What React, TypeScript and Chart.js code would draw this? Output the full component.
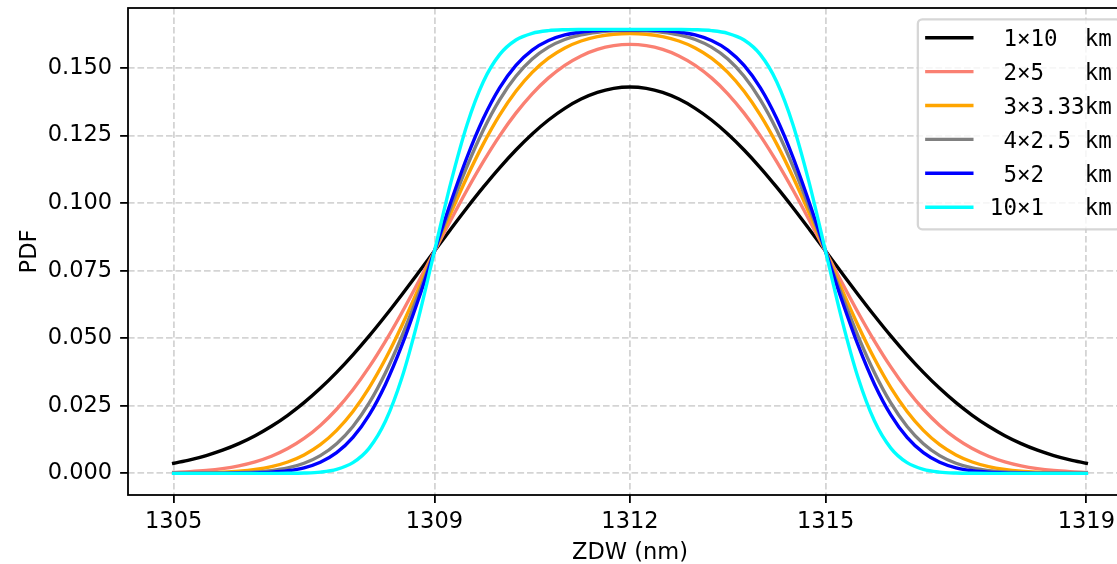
import React, { useEffect, useRef } from "react";
import { Chart, registerables } from "chart.js";

Chart.register(...registerables);

const zdw = [
  1305, 1305.25, 1305.5, 1305.75, 1306, 1306.25, 1306.5, 1306.75, 1307, 1307.25, 1307.5, 1307.75,
  1308, 1308.25, 1308.5, 1308.75, 1309, 1309.25, 1309.5, 1309.75, 1310, 1310.25, 1310.5, 1310.75,
  1311, 1311.25, 1311.5, 1311.75, 1312, 1312.25, 1312.5, 1312.75, 1313, 1313.25, 1313.5, 1313.75,
  1314, 1314.25, 1314.5, 1314.75, 1315, 1315.25, 1315.5, 1315.75, 1316, 1316.25, 1316.5, 1316.75,
  1317, 1317.25, 1317.5, 1317.75, 1318, 1318.25, 1318.5, 1318.75, 1319,
];

const xTickValues = [1305, 1309, 1312, 1315, 1319];
const yTickValues = [0, 0.025, 0.05, 0.075, 0.1, 0.125, 0.15];

const seriesLabels = [" 1×10  km", " 2×5   km", " 3×3.33km", " 4×2.5 km", " 5×2   km", "10×1   km"];
const seriesColors = ["#000000", "#fa8072", "#ffa500", "#808080", "#0000ff", "#00ffff"];

const pdf1x10 = [
  0.00375, 0.00502, 0.00661, 0.00859, 0.01102, 0.01395, 0.01743, 0.0215, 0.02617, 0.03147, 0.03738, 0.04387,
  0.05087, 0.05832, 0.06612, 0.07415, 0.08228, 0.09037, 0.0983, 0.1059, 0.11307, 0.11966, 0.12559, 0.13075,
  0.13507, 0.13849, 0.14096, 0.14245, 0.14295, 0.14245, 0.14096, 0.13849, 0.13507, 0.13075, 0.12559, 0.11966,
  0.11307, 0.1059, 0.0983, 0.09037, 0.08228, 0.07415, 0.06612, 0.05832, 0.05087, 0.04387, 0.03738, 0.03147,
  0.02617, 0.0215, 0.01743, 0.01395, 0.01102, 0.00859, 0.00661, 0.00502, 0.00375,
];
const pdf2x5 = [
  0.00038, 0.00066, 0.00109, 0.00177, 0.00279, 0.00426, 0.00633, 0.00917, 0.01292, 0.01774, 0.02373, 0.03095,
  0.03939, 0.04895, 0.05945, 0.07062, 0.08215, 0.09367, 0.10484, 0.11533, 0.12488, 0.13329, 0.14045, 0.14634,
  0.15099, 0.15447, 0.15687, 0.15827, 0.15873, 0.15827, 0.15687, 0.15447, 0.15099, 0.14634, 0.14045, 0.13329,
  0.12488, 0.11533, 0.10484, 0.09367, 0.08215, 0.07062, 0.05945, 0.04895, 0.03939, 0.03095, 0.02373, 0.01774,
  0.01292, 0.00917, 0.00633, 0.00426, 0.00279, 0.00177, 0.00109, 0.00066, 0.00038,
];
const pdf3x333 = [
  0.00004, 0.0001, 0.0002, 0.0004, 0.00077, 0.00142, 0.0025, 0.00422, 0.00684, 0.01065, 0.01593, 0.02292,
  0.03175, 0.04239, 0.05463, 0.06807, 0.08215, 0.09623, 0.10967, 0.12191, 0.13255, 0.14138, 0.14836, 0.15363,
  0.15742, 0.15999, 0.1616, 0.16248, 0.16276, 0.16248, 0.1616, 0.15999, 0.15742, 0.15363, 0.14836, 0.14138,
  0.13255, 0.12191, 0.10967, 0.09623, 0.08215, 0.06807, 0.05463, 0.04239, 0.03175, 0.02292, 0.01593, 0.01065,
  0.00684, 0.00422, 0.0025, 0.00142, 0.00077, 0.0004, 0.0002, 0.0001, 0.00004,
];
const pdf4x25 = [
  0.00001, 0.00001, 0.00004, 0.00009, 0.00022, 0.00049, 0.00102, 0.00201, 0.00374, 0.00658, 0.01098, 0.01736,
  0.02607, 0.03724, 0.05069, 0.06593, 0.08215, 0.09837, 0.11361, 0.12707, 0.13823, 0.14694, 0.15332, 0.15772,
  0.16056, 0.16228, 0.16324, 0.16372, 0.16386, 0.16372, 0.16324, 0.16228, 0.16056, 0.15772, 0.15332, 0.14694,
  0.13823, 0.12707, 0.11361, 0.09837, 0.08215, 0.06593, 0.05069, 0.03724, 0.02607, 0.01736, 0.01098, 0.00658,
  0.00374, 0.00201, 0.00102, 0.00049, 0.00022, 0.00009, 0.00004, 0.00001, 0.00001,
];
const pdf5x2 = [
  0.0, 0.0, 0.00001, 0.00002, 0.00007, 0.00017, 0.00043, 0.00098, 0.00208, 0.00414, 0.00768, 0.01333,
  0.02165, 0.033, 0.04733, 0.06407, 0.08215, 0.10024, 0.11697, 0.1313, 0.14265, 0.15097, 0.15662, 0.16016,
  0.16222, 0.16332, 0.16387, 0.1641, 0.16417, 0.1641, 0.16387, 0.16332, 0.16222, 0.16016, 0.15662, 0.15097,
  0.14265, 0.1313, 0.11697, 0.10024, 0.08215, 0.06407, 0.04733, 0.033, 0.02165, 0.01333, 0.00768, 0.00414,
  0.00208, 0.00098, 0.00043, 0.00017, 0.00007, 0.00002, 0.00001, 0.0, 0.0,
];
const pdf10x1 = [
  0.0, 0.0, 0.0, 0.0, 0.0, 0.0, 0.00001, 0.00003, 0.00013, 0.00047, 0.00146, 0.00395,
  0.00935, 0.01936, 0.03526, 0.0569, 0.08215, 0.1074, 0.12904, 0.14494, 0.15495, 0.16035, 0.16285, 0.16384,
  0.16417, 0.16427, 0.16429, 0.1643, 0.1643, 0.1643, 0.16429, 0.16427, 0.16417, 0.16384, 0.16285, 0.16035,
  0.15495, 0.14494, 0.12904, 0.1074, 0.08215, 0.0569, 0.03526, 0.01936, 0.00935, 0.00395, 0.00146, 0.00047,
  0.00013, 0.00003, 0.00001, 0.0, 0.0, 0.0, 0.0, 0.0, 0.0,
];

const seriesValues = [pdf1x10, pdf2x5, pdf3x333, pdf4x25, pdf5x2, pdf10x1];

const PT = 2.25; // px per point
const FONT_SIZE = 22.5;

const spinesPlugin = {
  id: "mplSpines",
  afterDatasetsDraw(chart: any) {
    const { ctx, chartArea } = chart;
    ctx.save();
    ctx.strokeStyle = "#000";
    ctx.lineWidth = 0.8 * PT;
    ctx.strokeRect(chartArea.left, chartArea.top, chartArea.right - chartArea.left, chartArea.bottom - chartArea.top);
    ctx.restore();
  },
};

const legendPlugin = {
  id: "mplLegend",
  afterDraw(chart: any) {
    const { ctx, chartArea } = chart;
    const em = FONT_SIZE;
    ctx.save();
    ctx.font = `${em}px "DejaVu Sans Mono"`;
    let textW = 0;
    seriesLabels.forEach((l) => {
      textW = Math.max(textW, ctx.measureText(l).width);
    });
    const pad = 0.4 * em;
    const handleLen = 2.0 * em;
    const handleTextPad = 0.8 * em;
    const rowStep = 33.9;
    const frameW = pad + handleLen + handleTextPad + textW + pad;
    const frameH = 210;
    const right = chartArea.right - 0.5 * em;
    const top = chartArea.top + 0.5 * em;
    const left = right - frameW;
    const r = 0.2 * em;
    ctx.beginPath();
    ctx.moveTo(left + r, top);
    ctx.lineTo(right - r, top);
    ctx.arcTo(right, top, right, top + r, r);
    ctx.lineTo(right, top + frameH - r);
    ctx.arcTo(right, top + frameH, right - r, top + frameH, r);
    ctx.lineTo(left + r, top + frameH);
    ctx.arcTo(left, top + frameH, left, top + frameH - r, r);
    ctx.lineTo(left, top + r);
    ctx.arcTo(left, top, left + r, top, r);
    ctx.closePath();
    ctx.fillStyle = "rgba(255,255,255,0.8)";
    ctx.fill();
    ctx.lineWidth = 1.0 * PT;
    ctx.strokeStyle = "rgba(204,204,204,0.8)";
    ctx.stroke();

    seriesLabels.forEach((label, i) => {
      const y = top + 18.45 + i * rowStep;
      ctx.beginPath();
      ctx.lineCap = "square";
      ctx.lineWidth = 1.5 * PT;
      ctx.strokeStyle = seriesColors[i];
      ctx.moveTo(left + pad, y);
      ctx.lineTo(left + pad + handleLen, y);
      ctx.stroke();
      ctx.fillStyle = "#000";
      ctx.textBaseline = "alphabetic";
      ctx.textAlign = "left";
      ctx.fillText(label, left + pad + handleLen + handleTextPad, y + 0.3645 * em);
    });
    ctx.restore();
  },
};

export default function App() {
  const canvasRef = useRef<HTMLCanvasElement | null>(null);

  useEffect(() => {
    const canvas = canvasRef.current;
    if (!canvas) return;
    const n = seriesValues.length;
    const chart = new Chart(canvas, {
      type: "line",
      data: {
        datasets: seriesValues.map((vals, i) => ({
          label: seriesLabels[i],
          data: zdw.map((x, j) => ({ x, y: vals[j] })),
          borderColor: seriesColors[i],
          backgroundColor: seriesColors[i],
          borderWidth: 1.5 * PT,
          pointRadius: 0,
          fill: false,
          cubicInterpolationMode: "monotone" as const,
          borderJoinStyle: "round" as const,
          borderCapStyle: "square" as const,
          order: n - i,
        })),
      },
      options: {
        responsive: false,
        animation: false,
        devicePixelRatio: 1,
        events: [],
        layout: { padding: { left: 0, right: 18, top: 8, bottom: 0 } },
        plugins: {
          legend: { display: false },
          tooltip: { enabled: false },
        },
        scales: {
          x: {
            type: "linear",
            min: 1304.3,
            max: 1319.7,
            afterBuildTicks: (scale: any) => {
              scale.ticks = xTickValues.map((v) => ({ value: v }));
            },
            afterFit: (scale: any) => {
              scale.height = 75;
              scale.paddingLeft = 0;
              scale.paddingRight = 0;
            },
            ticks: {
              autoSkip: false,
              maxRotation: 0,
              padding: 5.5,
              color: "#000",
              font: { family: "DejaVu Sans", size: FONT_SIZE },
              callback: (v: any) => String(v),
            },
            grid: {
              color: "rgba(176,176,176,0.55)",
              lineWidth: 0.8 * PT,
              drawTicks: true,
              tickLength: 3.5 * PT,
              tickColor: "#000",
              tickWidth: 0.8 * PT,
              tickBorderDash: [],
            },
            border: { display: false, dash: [6.6, 2.9] },
            title: {
              display: true,
              text: "ZDW (nm)",
              color: "#000",
              font: { family: "DejaVu Sans", size: FONT_SIZE },
              padding: { top: 0, bottom: 3 },
            },
          },
          y: {
            type: "linear",
            min: -0.008,
            max: 0.1722,
            afterBuildTicks: (scale: any) => {
              scale.ticks = yTickValues.map((v) => ({ value: v }));
            },
            afterFit: (scale: any) => {
              scale.width = 128;
              scale.paddingTop = 0;
              scale.paddingBottom = 0;
            },
            ticks: {
              autoSkip: false,
              padding: 8,
              color: "#000",
              font: { family: "DejaVu Sans", size: FONT_SIZE },
              callback: (v: any) => Number(v).toFixed(3),
            },
            grid: {
              color: "rgba(176,176,176,0.55)",
              lineWidth: 0.8 * PT,
              drawTicks: true,
              tickLength: 3.5 * PT,
              tickColor: "#000",
              tickWidth: 0.8 * PT,
              tickBorderDash: [],
            },
            border: { display: false, dash: [6.6, 2.9] },
            title: {
              display: true,
              text: "PDF",
              color: "#000",
              font: { family: "DejaVu Sans", size: FONT_SIZE },
              padding: { top: 16.5, bottom: 0 },
            },
          },
        },
      },
      plugins: [spinesPlugin, legendPlugin],
    });
    return () => {
      chart.destroy();
    };
  }, []);

  return (
    <div
      style={{
        position: "fixed",
        left: 0,
        top: 0,
        width: 1117,
        height: 564,
        overflow: "hidden",
        background: "#ffffff",
      }}
    >
      <canvas ref={canvasRef} width={1150} height={570} style={{ display: "block" }} />
    </div>
  );
}
